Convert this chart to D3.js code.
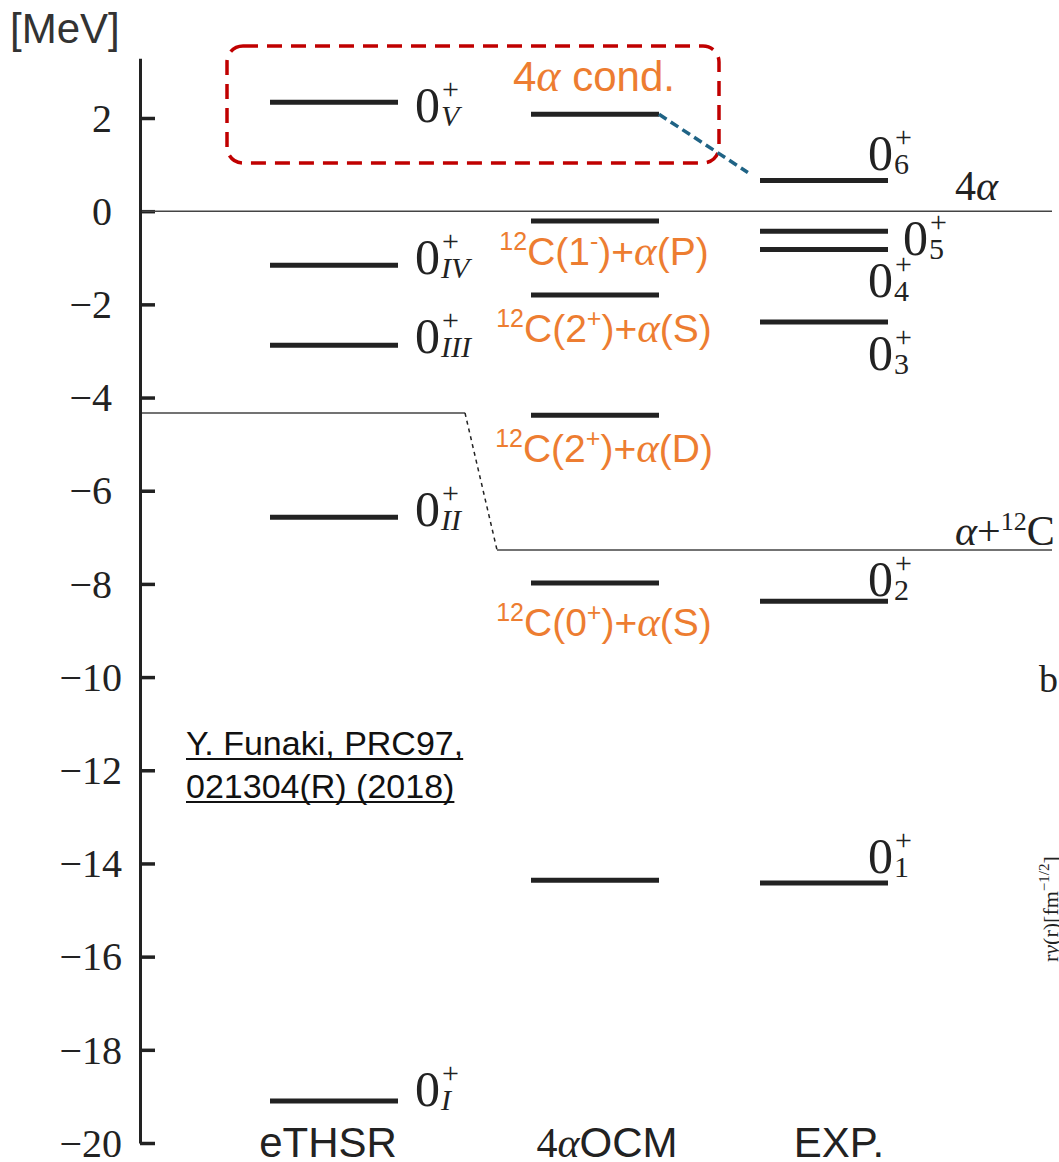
<!DOCTYPE html>
<html>
<head>
<meta charset="utf-8">
<script src="https://cdn.jsdelivr.net/npm/d3@7"></script>
<style>
  html, body { margin: 0; padding: 0; background: #fff; }
  svg { display: block; }
</style>
</head>
<body>
<script>
// ---- data (energies in MeV, relative to the 4α threshold) ----
const columns = ["eTHSR", "4αOCM", "EXP."];

const ethsrEnergies = [2.34, -1.16, -2.88, -6.57, -19.10];
const ethsrSubs     = ["V", "IV", "III", "II", "I"];

const ocmEnergies = [2.08, -0.21, -1.80, -4.38, -7.98, -14.36];
const ocmChannels = ["4α cond.", "1-", "2+S", "2+D", "0+S", ""];

const expEnergies = [0.66, -0.43, -0.82, -2.38, -8.37, -14.42];
const expSubs     = ["6", "5", "4", "3", "2", "1"];

const fourAlphaThreshold = 0;
const alphaC12ThresholdTHSR = -4.33;
const alphaC12ThresholdExp = -7.27;

const yTicks = [-20, -18, -16, -14, -12, -10, -8, -6, -4, -2, 0, 2];

// ---- layout ----
const W = 1059, H = 1162;
const svg = d3.select("body").append("svg").attr("width", W).attr("height", H);

const y = d3.scaleLinear().domain([-20, 2]).range([1143, 118]);
const xCenter = d3.scaleOrdinal().domain(columns).range([334, 595, 824]);
const halfLen = 64;

const serif = "'Liberation Serif', 'Times New Roman', serif";
const sans = "'Liberation Sans', Arial, sans-serif";
const ink = "#222";
const orange = "#ED7D31";

// y axis with inward ticks
const yAxisScale = y.copy().domain([-20, 3.28]).range([y(-20), y(3.28)]);
const axisG = svg.append("g").attr("transform", "translate(140,0)")
  .call(d3.axisLeft(yAxisScale).tickValues(yTicks).tickSizeInner(-15).tickSizeOuter(0)
        .tickFormat(d3.format("d")));
axisG.select(".domain").attr("stroke", ink).attr("stroke-width", 3);
axisG.selectAll(".tick line").attr("stroke", ink).attr("stroke-width", 3.5);
axisG.selectAll(".tick text")
  .attr("font-family", serif).attr("font-size", 40).attr("fill", ink)
  .attr("x", d => Math.abs(d) >= 10 ? -18 : -28)
  .attr("dy", "0.33em");

svg.append("text").attr("x", 10).attr("y", 43)
  .attr("font-family", sans).attr("font-size", 42).attr("fill", "#333")
  .text("[MeV]");

// thresholds
const thin = svg.append("g").attr("stroke", "#444").attr("stroke-width", 1.5).attr("fill", "none");
thin.append("line").attr("x1", 142).attr("x2", 1052)
  .attr("y1", y(fourAlphaThreshold)).attr("y2", y(fourAlphaThreshold));
thin.append("line").attr("x1", 142).attr("x2", 465)
  .attr("y1", y(alphaC12ThresholdTHSR)).attr("y2", y(alphaC12ThresholdTHSR));
thin.append("line").attr("x1", 497).attr("x2", 1052)
  .attr("y1", y(alphaC12ThresholdExp)).attr("y2", y(alphaC12ThresholdExp));
thin.append("line").attr("x1", 465).attr("x2", 497)
  .attr("y1", y(alphaC12ThresholdTHSR)).attr("y2", y(alphaC12ThresholdExp))
  .attr("stroke-dasharray", "4 4").attr("stroke", "#222");

// threshold labels
const t4a = svg.append("text").attr("x", 955).attr("y", 200)
  .attr("font-family", serif).attr("font-size", 42).attr("fill", ink);
t4a.append("tspan").text("4");
t4a.append("tspan").attr("font-style", "italic").text("α");

const tac = svg.append("text").attr("x", 955).attr("y", 545)
  .attr("font-family", serif).attr("font-size", 42).attr("fill", ink);
tac.append("tspan").attr("font-style", "italic").text("α");
tac.append("tspan").text("+");
tac.append("tspan").attr("font-size", 26).attr("dy", -15).text("12");
tac.append("tspan").attr("dy", 15).text("C");

// level lines
function drawLevels(col, energies) {
  svg.append("g").selectAll("line").data(energies).join("line")
    .attr("x1", xCenter(col) - halfLen).attr("x2", xCenter(col) + halfLen)
    .attr("y1", d => y(d)).attr("y2", d => y(d))
    .attr("stroke", ink).attr("stroke-width", 5);
}
drawLevels("eTHSR", ethsrEnergies);
drawLevels("4αOCM", ocmEnergies);
drawLevels("EXP.", expEnergies);

// 0+ labels: "0" with stacked superscript "+" and subscript
function stateLabel(x0, base, sub, italicSub) {
  const g = svg.append("g").attr("font-family", serif).attr("fill", ink);
  g.append("text").attr("x", x0).attr("y", base).attr("font-size", 50).text("0");
  g.append("text").attr("x", x0 + 27).attr("y", base - 23).attr("font-size", 30).text("+");
  g.append("text").attr("x", x0 + 26).attr("y", base + 4).attr("font-size", 30)
    .attr("font-style", italicSub ? "italic" : "normal").text(sub);
}
const ethsrBaseShift = { V: 20, IV: 9, III: 8, II: 9, I: 5 };
ethsrEnergies.forEach((e, i) => {
  stateLabel(xCenter("eTHSR") + halfLen + 17, y(e) + ethsrBaseShift[ethsrSubs[i]], ethsrSubs[i], true);
});
const expLabelPos = { "6": [0, -10], "5": [35, 24], "4": [0, 48], "3": [0, 48], "2": [0, -5], "1": [0, -10] };
expEnergies.forEach((e, i) => {
  const p = expLabelPos[expSubs[i]];
  stateLabel(xCenter("EXP.") + halfLen - 20 + p[0], y(e) + p[1], expSubs[i], false);
});

// 4αOCM channel labels
function channelLabel(cx, base, core, supSign, wave) {
  const t = svg.append("text").attr("x", cx).attr("y", base).attr("text-anchor", "middle")
    .attr("font-family", sans).attr("font-size", 39).attr("fill", orange);
  t.append("tspan").attr("font-size", 25).attr("dy", -15).text("12");
  t.append("tspan").attr("dy", 15).text("C(" + core);
  t.append("tspan").attr("font-size", 25).attr("dy", -15).text(supSign);
  t.append("tspan").attr("dy", 15).text(")+");
  t.append("tspan").attr("font-family", serif).attr("font-style", "italic").attr("font-size", 43).text("α");
  t.append("tspan").text("(" + wave + ")");
}
const ocmX = xCenter("4αOCM");
const chanDefs = {
  "1-":  ["1", "-", "P", 44],
  "2+S": ["2", "+", "S", 47],
  "2+D": ["2", "+", "D", 47],
  "0+S": ["0", "+", "S", 53]
};
ocmEnergies.forEach((e, i) => {
  const c = chanDefs[ocmChannels[i]];
  if (c) channelLabel(ocmX + 9, y(e) + c[3], c[0], c[1], c[2]);
});

// condensate label, box and connector
const cond = svg.append("text").attr("x", 513).attr("y", 91)
  .attr("font-family", sans).attr("font-size", 42).attr("fill", orange);
cond.append("tspan").text("4");
cond.append("tspan").attr("font-family", serif).attr("font-style", "italic").attr("font-size", 46).text("α");
cond.append("tspan").text(" cond.");

svg.append("rect").attr("x", 227).attr("y", 46).attr("width", 492).attr("height", 117)
  .attr("rx", 16).attr("fill", "none").attr("stroke", "#C00000")
  .attr("stroke-width", 3.5).attr("stroke-dasharray", "15 9");

const x0c = ocmX + halfLen, y0c = y(ocmEnergies[0]);
const x1c = xCenter("EXP.") - halfLen, y1c = y(expEnergies[0]);
svg.append("line")
  .attr("x1", x0c).attr("y1", y0c)
  .attr("x2", x0c + (x1c - x0c) * 0.88).attr("y2", y0c + (y1c - y0c) * 0.88)
  .attr("stroke", "#1F6385").attr("stroke-width", 3.5).attr("stroke-dasharray", "9 5");

// column titles
svg.append("text").attr("x", 328).attr("y", 1157).attr("text-anchor", "middle")
  .attr("font-family", sans).attr("font-size", 42).attr("fill", ink).text("eTHSR");
const ocmTitle = svg.append("text").attr("x", 607).attr("y", 1157).attr("text-anchor", "middle")
  .attr("font-family", sans).attr("font-size", 42).attr("fill", ink);
ocmTitle.append("tspan").attr("font-family", serif).text("4");
ocmTitle.append("tspan").attr("font-family", serif).attr("font-style", "italic").text("α");
ocmTitle.append("tspan").text("OCM");
svg.append("text").attr("x", 839).attr("y", 1157).attr("text-anchor", "middle")
  .attr("font-family", sans).attr("font-size", 42).attr("fill", ink).text("EXP.");

// reference note, underlined with a solid rule under each line
const refLines = ["Y. Funaki, PRC97,", "021304(R) (2018)"];
refLines.forEach((s, i) => {
  const base = 755 + i * 43;
  const t = svg.append("text").attr("x", 186).attr("y", base)
    .attr("font-family", sans).attr("font-size", 34).attr("fill", "#111")
    .text(s);
  const len = t.node().getComputedTextLength();
  svg.append("line").attr("x1", 186).attr("x2", 186 + len)
    .attr("y1", base + 4).attr("y2", base + 4)
    .attr("stroke", "#111").attr("stroke-width", 2);
});

// edge of neighbouring panel
svg.append("text").attr("x", 1039).attr("y", 692)
  .attr("font-family", serif).attr("font-size", 38).attr("fill", ink).text("b");
const side = svg.append("text").attr("transform", "translate(1058,962) rotate(-90)")
  .attr("font-family", serif).attr("font-size", 22).attr("fill", ink);
side.append("tspan").text("r");
side.append("tspan").attr("font-style", "italic").text("y");
side.append("tspan").text("(r)[fm");
side.append("tspan").attr("font-size", 15).attr("dy", -9).text("−1/2");
side.append("tspan").attr("dy", 9).text("]");
</script>
</body>
</html>
